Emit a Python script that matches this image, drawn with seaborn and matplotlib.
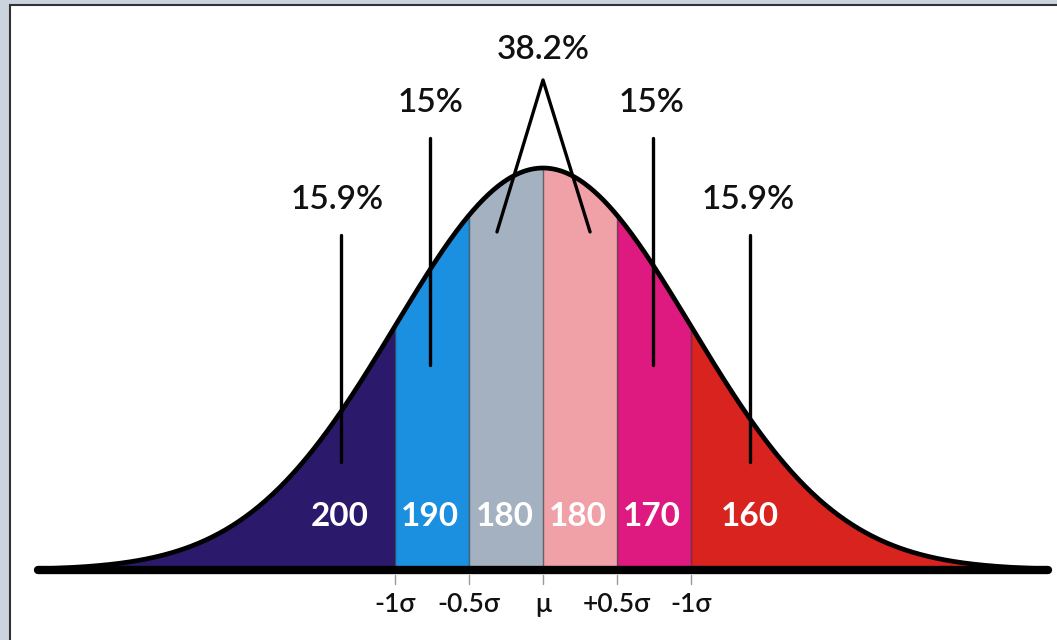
#-*- coding:utf-8 -*-

'''
정규분포 구간 그림
'''

import numpy as np
import matplotlib.pyplot as plt
from matplotlib.patches import Rectangle
import seaborn as sns

# 데이터
mu = 0.0 # 평균
sigma = 1.0 # 표준편차
tail_end = 3.41 # 곡선 끝 (σ 단위)
bounds = [-tail_end, -1.0, -0.5, 0.0, 0.5, 1.0, tail_end] # 구간 경계 (σ 단위)
seg_colors = ['#2b1a6b', '#1b8fe0', '#a3b1c0', '#f0a1a8', '#de1a80', '#d8231f'] # 구간 색상
seg_values = ['200', '190', '180', '180', '170', '160'] # 구간 값
pct_labels = ['15.9%', '15%', '38.2%', '15%', '15.9%'] # 비율 라벨
tick_pos = [-1.0, -0.5, 0.0, 0.5, 1.0] # 눈금 위치
tick_labels = ['-1σ', '-0.5σ', 'μ', '+0.5σ', '-1σ'] # 눈금 라벨

sns.set_theme(style='white')
plt.rcParams['font.family'] = ['Lato', 'DejaVu Sans']

fig = plt.figure(figsize=[10.57, 6.4], dpi=100)
fig.patch.set_facecolor('#cbd3df')
fig.patches.append(Rectangle((10/1057, -0.01), 1.0, 1 - 5/640 + 0.01, transform=fig.transFigure,
                             facecolor='white', edgecolor='#333333', linewidth=1.5, zorder=-10))

ax = fig.add_axes([0, 0, 1, 1])
ax.set_facecolor('none')
ax.set_xlim((0 - 543)/148, (1057 - 543)/148) # 픽셀 -> σ
ax.set_ylim(-(640 - 570)/402, 570/402) # 픽셀 -> 높이
ax.axis('off')

def curve(x):
    return np.exp(-0.5*((x - mu)/sigma)**2) # 최고점 1로 맞춘 정규곡선

# 구간 채우기
for i in range(len(seg_colors)):
    xs = np.linspace(bounds[i], bounds[i+1], 200)
    ax.fill_between(xs, 0, curve(xs), color=seg_colors[i], linewidth=0, zorder=1)
for b in bounds[1:-1]: # 구간 경계선
    ax.plot([b, b], [0, curve(b)], color='#222222', linewidth=1, alpha=0.6, zorder=2)

# 곡선 + 밑선
xs = np.linspace(-tail_end, tail_end, 600)
sns.lineplot(x=xs, y=curve(xs), color='black', linewidth=3.4, ax=ax, zorder=3)
ax.plot([-tail_end, tail_end], [0, 0], color='black', linewidth=6, solid_capstyle='round', zorder=4)

# 눈금
for p, lab in zip(tick_pos, tick_labels):
    ax.plot([p, p], [-0.012, -0.035], color='#999999', linewidth=1, zorder=2)
    ax.text(p, -0.087, lab, ha='center', va='center', fontsize=19, fontweight='semibold', color='#111111')

# 구간 값 (흰 글씨)
val_x = [-1.372, -0.764, -0.257, 0.236, 0.736, 1.399]
for x, v in zip(val_x, seg_values):
    ax.text(x, 0.132, v, ha='center', va='center', fontsize=24, fontweight='bold', color='white', zorder=5)

# 비율 라벨 + 지시선
lab_xy = [(-1.392, 0.920), (-0.757, 1.162), (0.0, 1.294), (0.736, 1.162), (1.385, 0.920)]
for (x, y), lab in zip(lab_xy, pct_labels):
    ax.text(x, y, lab, ha='center', va='center', fontsize=24, fontweight='semibold', color='#111111')
ax.plot([-1.365, -1.365], [0.833, 0.269], color='black', linewidth=2.4, zorder=5)
ax.plot([-0.764, -0.764], [1.075, 0.510], color='black', linewidth=2.4, zorder=5)
ax.plot([0.743, 0.743], [1.075, 0.510], color='black', linewidth=2.4, zorder=5)
ax.plot([1.399, 1.399], [0.833, 0.269], color='black', linewidth=2.4, zorder=5)
ax.plot([-0.311, 0.0, 0.318], [0.841, 1.219, 0.841], color='black', linewidth=2.4, zorder=5)

plt.savefig('out.png', dpi=100, facecolor=fig.get_facecolor())
